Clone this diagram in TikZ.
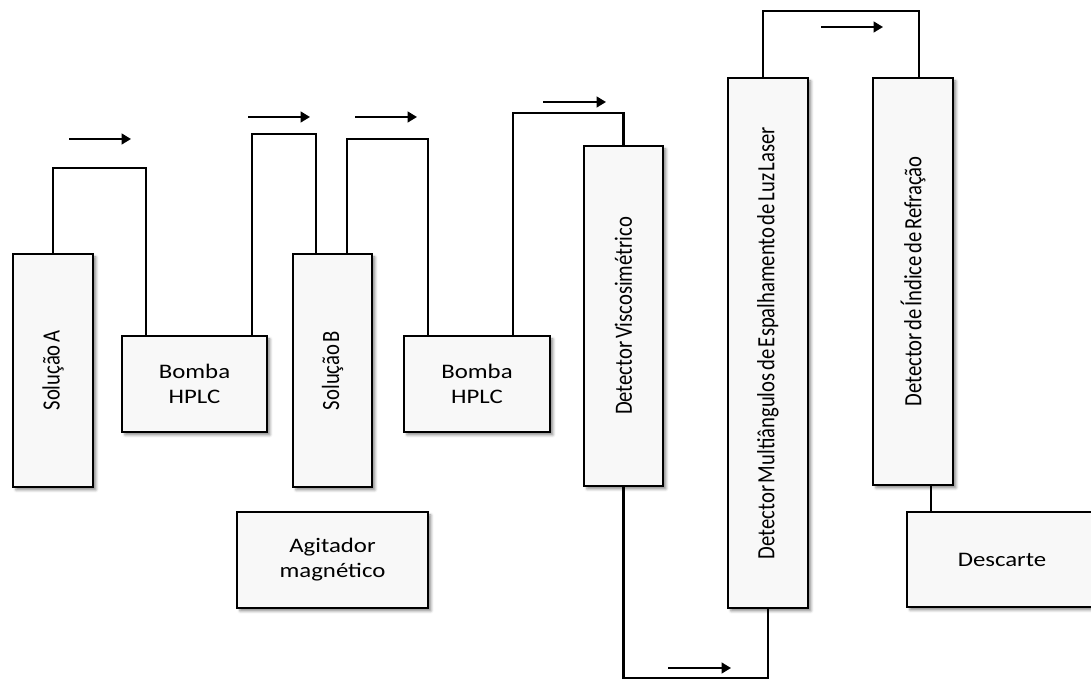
\documentclass[tikz,border=0pt]{standalone}
\usepackage{fontspec}
\setmainfont{Carlito}
\newfontfamily\vfont[WordSpace=0.55]{Carlito}
\usetikzlibrary{arrows.meta,shadows.blur}
\definecolor{boxfill}{HTML}{F8F8F8}
\newcommand{\hs}[1]{\scalebox{1.2}[1]{#1}}
\newcommand{\vs}[1]{\scalebox{1.2}[1]{\rotatebox{90}{\vfont #1}}}
\begin{document}
\begin{tikzpicture}[x=0.75pt,y=-0.75pt,
  box/.style={draw=black, line width=2.2pt, fill=boxfill, inner sep=0pt, outer sep=0pt,
    blur shadow={shadow xshift=2.2pt, shadow yshift=-2.2pt, shadow blur radius=2pt, shadow opacity=45},
    font=\fontsize{15.5}{18.75}\selectfont, align=center},
  wire/.style={line width=1.7pt, line join=miter},
  flow/.style={line width=1.5pt, -{Triangle[length=7pt,width=8pt]}}]
\useasboundingbox (0,0) rectangle (1091,680);

% boxes
\node[box, minimum width=60pt, minimum height=174.75pt] (solA) at (53,370.5) {\vs{Solução A}};
\node[box, minimum width=108.75pt, minimum height=72pt] (bomba1) at (194.5,384) {\hs{Bomba}\\\hs{HPLC}};
\node[box, minimum width=59.25pt, minimum height=174.75pt] (solB) at (332.5,370.5) {\vs{Solução B}};
\node[box, minimum width=109.5pt, minimum height=72pt] (bomba2) at (477,384) {\hs{Bomba}\\\hs{HPLC}};
\node[box, minimum width=143.25pt, minimum height=72pt] (agit) at (332.5,560) {\hs{Agitador}\\\hs{magnético}};
\node[box, minimum width=59.25pt, minimum height=255pt] (visc) at (623.5,316) {\vs{Detector Viscosimétrico}};
\node[box, minimum width=60pt, minimum height=397.5pt] (mals) at (768,343) {\vs{Detector Multiângulos de Espalhamento de Luz Laser}};
\node[box, minimum width=60pt, minimum height=305.25pt] (ri) at (913,281.5) {\vs{Detector de Índice de Refração}};
\node[box, minimum width=142.5pt, minimum height=71.25pt] (desc) at (1002,559.5) {\hs{Descarte}};

% connectors
\draw[wire] (solA.north) -- ++(0,-86) -| ([xshift=18pt]bomba1.north west);
\draw[wire] ([xshift=-11.25pt]bomba1.north east) -- ++(0,-202) -| ([xshift=17.25pt]solB.north west);
\draw[wire] ([xshift=-18.75pt]solB.north east) -- ++(0,-115) -| ([xshift=18pt]bomba2.north west);
\draw[wire] ([xshift=-27.75pt]bomba2.north east) -- ++(0,-223) -| (visc.north);
\draw[wire] (visc.south) -- ++(0,192) -| (mals.south);
\draw[wire] ([xshift=26.25pt]mals.north west) -- ++(0,-67) -| ([xshift=34.5pt]ri.north west);
\draw[wire] ([xshift=43.5pt]ri.south west) -- ([xshift=18pt]desc.north west);

% flow arrows
\draw[flow] (69,139) -- (131,139);
\draw[flow] (248,117) -- (310,117);
\draw[flow] (355,117) -- (417,117);
\draw[flow] (543,102) -- (606,102);
\draw[flow] (821,27) -- (883,27);
\draw[flow] (668,668) -- (731,668);
\end{tikzpicture}
\end{document}
